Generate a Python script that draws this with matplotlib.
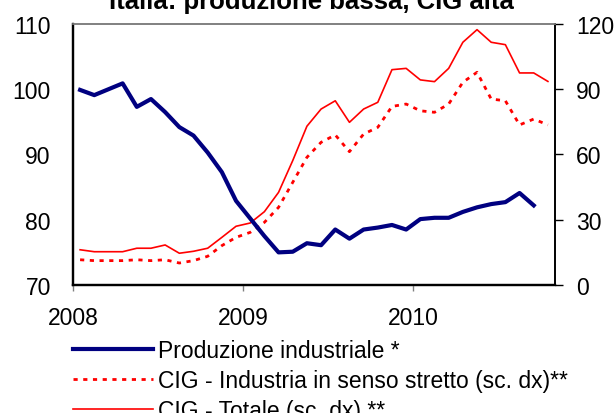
import matplotlib
matplotlib.use("Agg")
import matplotlib.pyplot as plt
import numpy as np

plt.rcParams["font.family"] = ["Liberation Sans", "DejaVu Sans"]

# monthly data, Jan 2008 onwards
produzione = [99.9, 99.1, 100.0, 100.9, 97.3, 98.5, 96.5, 94.2, 92.9, 90.3, 87.3, 82.9,
              80.2, 77.5, 75.0, 75.1, 76.4, 76.1, 78.5, 77.1, 78.5, 78.8, 79.2, 78.5,
              80.1, 80.3, 80.3, 81.2, 81.9, 82.4, 82.7, 84.1, 82.2]
cig_industria = [11.6, 11.2, 11.2, 11.2, 11.6, 11.2, 11.6, 10.1, 11.2, 13.2, 18.1, 21.9,
                 24.2, 28.8, 35.7, 47.2, 58.7, 65.6, 69.0, 61.3, 69.4, 72.5, 82.1, 83.2,
                 80.1, 79.4, 83.2, 93.2, 97.8, 85.5, 84.7, 73.6, 76.3, 73.6]
cig_totale = [16.2, 15.3, 15.3, 15.3, 16.9, 16.9, 18.4, 14.6, 15.5, 16.9, 21.9, 27.0,
              28.5, 33.7, 42.6, 57.2, 73.0, 80.9, 84.7, 74.8, 80.9, 84.0, 99.0, 99.6,
              94.3, 93.5, 99.6, 111.6, 117.4, 111.6, 110.5, 97.5, 97.5, 93.6]
anni = [2008, 2009, 2010]
etichette = ["Produzione industriale *",
             "CIG - Industria in senso stretto (sc. dx)**",
             "CIG - Totale (sc. dx) **"]

blu = "#000080"
rosso = "#ff0000"


def mesi(n):
	# centre of each monthly category
	return 2008 + (np.arange(n) + 0.5) / 12


fig = plt.figure(figsize=(6.14, 4.14), dpi=100)
ax = fig.add_axes([0.1189, 0.3092, 0.785, 0.6304])
ax2 = ax.twinx()

l2, = ax2.plot(mesi(len(cig_industria)), cig_industria, color=rosso, lw=2.0,
               linestyle=(0, (1.5, 2.0)), label=etichette[1])
l3, = ax2.plot(mesi(len(cig_totale)), cig_totale, color=rosso, lw=1.2, label=etichette[2])
l1, = ax.plot(mesi(len(produzione)), produzione, color=blu, lw=3.0,
              solid_joinstyle="round", label=etichette[0])

# blue line above the red ones
ax.set_zorder(ax2.get_zorder() + 1)
ax.patch.set_visible(False)

ax.set_xlim(2008, 2008 + 34 / 12)
ax.set_ylim(70, 110)
ax.set_yticks([70, 80, 90, 100, 110])
ax2.set_ylim(0, 120)
ax2.set_yticks([0, 30, 60, 90, 120])
ax.set_xticks(anni)
ax.set_xticklabels([str(a) for a in anni])

ax.tick_params(axis="y", length=0, pad=16, labelsize=16.5)
ax.tick_params(axis="x", length=4, width=1, color="#808080", pad=11, labelsize=16.5)
ax2.tick_params(axis="y", length=6, width=1, color="black", direction="out", pad=9, labelsize=16.5)

for a in (ax, ax2):
	a.spines["top"].set_color("#808080")
	a.spines["top"].set_linewidth(1.2)
	a.spines["left"].set_linewidth(1.6)
	a.spines["bottom"].set_linewidth(1.6)
	a.spines["right"].set_linewidth(1.2)

# title sits at the very top edge, partly cropped as in the original
fig.text(0.508, 0.995, "Italia: produzione bassa, CIG alta", ha="center", va="center",
         fontsize=18.5, fontweight="bold")

fig.legend(handles=[l1, l2, l3], loc="upper left", bbox_to_anchor=(0.119, 0.178),
           frameon=False, fontsize=16.5, handlelength=3.5, handletextpad=0.22,
           labelspacing=0.3, borderaxespad=0, borderpad=0)

fig.savefig("out.png", dpi=100)
